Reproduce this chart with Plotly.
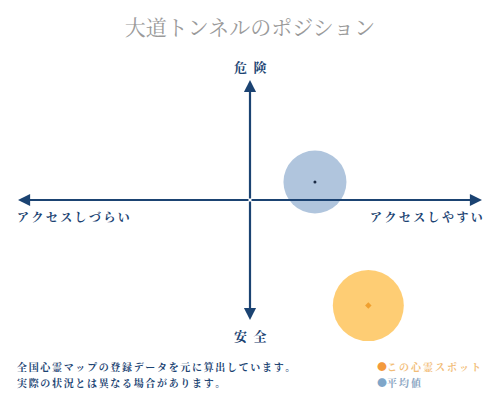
import plotly.graph_objects as go

# data
series_names = ["この心霊スポット", "平均値"]
access_vals = [0.51, 0.28]      # アクセス (しづらい -1 .. しやすい +1)
danger_vals = [-0.88, 0.15]     # 危険度 (安全 -1 .. 危険 +1)
x_labels = ["アクセスしづらい", "アクセスしやすい"]
y_labels = ["安全", "危険"]
title_text = "大道トンネルのポジション"
note_lines = ["全国心霊マップの登録データを元に算出しています。", "実際の状況とは異なる場合があります。"]

FONT = "Noto Serif CJK JP, Noto Sans CJK JP, serif"
NAVY = "#1b4372"
circle_colors = ["rgba(254,196,92,0.85)", "rgba(150,178,210,0.75)"]
dot_colors = ["#f0a030", "#1b2b44"]
legend_dot = ["#f39a3c", "#7fa6c9"]
legend_txt = ["#f2bd78", "#8aa5c2"]
circle_sizes = [71, 63]


def spaced(s, sep="\u2009"):
    return sep.join(list(s))


fig = go.Figure()

# big circles
for i in range(len(series_names)):
    fig.add_trace(go.Scatter(
        x=[access_vals[i]], y=[danger_vals[i]], mode="markers", cliponaxis=False,
        marker=dict(size=circle_sizes[i], color=circle_colors[i], line=dict(width=0)),
        hoverinfo="skip", showlegend=False))

# center dots
for i in range(len(series_names)):
    fig.add_trace(go.Scatter(
        x=[access_vals[i]], y=[danger_vals[i]], mode="markers", cliponaxis=False,
        marker=dict(size=3 if i else 5, color=dot_colors[i], symbol="diamond" if i == 0 else "circle"),
        name=series_names[i], showlegend=False))

# axis arrows
arrows = [(1.0, 0), (-1.0, 0), (0, 1.0), (0, -1.0)]
for ex, ey in arrows:
    fig.add_annotation(x=ex, y=ey, ax=0, ay=0, xref="x", yref="y", axref="x", ayref="y",
                       text="", showarrow=True, arrowhead=2, arrowsize=1.1, arrowwidth=2.2,
                       arrowcolor=NAVY)

# axis labels
fig.add_annotation(x=0.5, y=1.0, xref="paper", yref="paper", yshift=14, yanchor="middle",
                   text="<b>" + spaced(y_labels[1], "\u2002") + "</b>", showarrow=False,
                   font=dict(family=FONT, size=13, color=NAVY))
fig.add_annotation(x=0.5, y=0.0, xref="paper", yref="paper", yshift=-15, yanchor="middle",
                   text="<b>" + spaced(y_labels[0], "\u2002") + "</b>", showarrow=False,
                   font=dict(family=FONT, size=13, color=NAVY))
fig.add_annotation(x=0.0, y=0.5, xref="paper", yref="paper", xanchor="left", yanchor="middle",
                   yshift=-16, xshift=-3,
                   text="<b>" + spaced(x_labels[0]) + "</b>", showarrow=False,
                   font=dict(family=FONT, size=12, color=NAVY))
fig.add_annotation(x=1.0, y=0.5, xref="paper", yref="paper", xanchor="right", yanchor="middle",
                   yshift=-16, xshift=3,
                   text="<b>" + spaced(x_labels[1]) + "</b>", showarrow=False,
                   font=dict(family=FONT, size=12, color=NAVY))

# footnote
for k, line in enumerate(note_lines):
    fig.add_annotation(x=0.0, y=-0.195 - 0.067 * k, xref="paper", yref="paper", xshift=-3,
                       text="<b>" + spaced(line, "\u2006") + "</b>", showarrow=False,
                       xanchor="left", yanchor="middle",
                       font=dict(family=FONT, size=10, color=NAVY))

# legend (manual)
for k in range(len(series_names)):
    fig.add_annotation(x=0.77, y=-0.195 - 0.067 * k, xref="paper", yref="paper",
                       text="<span style='color:%s'>●</span><b>%s</b>" % (legend_dot[k], spaced(series_names[k])),
                       showarrow=False, xanchor="left", yanchor="middle",
                       font=dict(family=FONT, size=10, color=legend_txt[k]))

fig.update_layout(
    width=500, height=400,
    margin=dict(l=18, r=18, t=80, b=80),
    title=dict(text=title_text, x=0.5, y=0.93, xanchor="center", yanchor="middle",
               font=dict(family=FONT, size=21, color="#9a9a9a")),
    xaxis=dict(range=[-1, 1], visible=False, fixedrange=True),
    yaxis=dict(range=[-1, 1], visible=False, fixedrange=True),
    plot_bgcolor="white", paper_bgcolor="white",
    showlegend=False,
)

fig.write_html("out.html", config={"displayModeBar": False},
               post_script="document.body.style.margin='0';")
